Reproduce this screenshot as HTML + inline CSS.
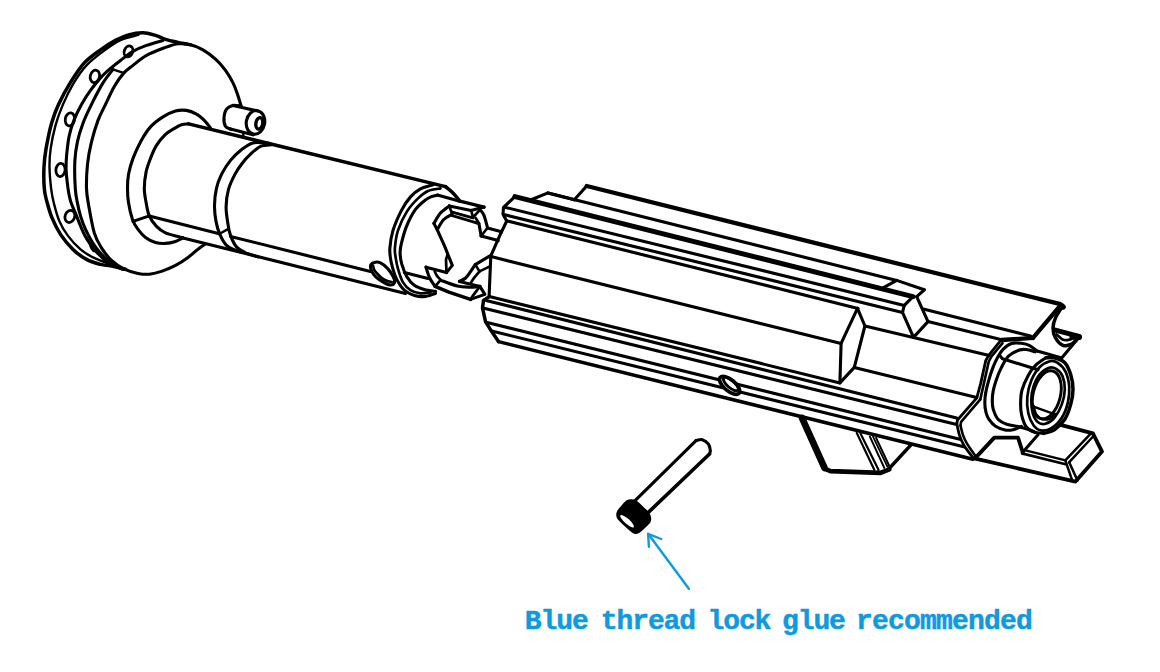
<!DOCTYPE html>
<html><head><meta charset="utf-8"><title>Assembly</title>
<style>
html,body{margin:0;padding:0;background:#fff;}
body{width:1160px;height:672px;overflow:hidden;position:relative;}
svg{position:absolute;left:0;top:0;display:block;}
</style></head><body>
<svg width="1160" height="672" viewBox="0 0 1160 672" fill="none" stroke="#000" stroke-linecap="round" stroke-linejoin="round">
<g transform="translate(0.5 0.4)">
<path d="M190 44.4 C187.9 44 181.7 42.9 177.5 42 C173.3 41.1 168.8 40.2 165 39 C161.2 37.8 158.8 36.1 155 35 C151.2 33.9 147 32.4 142.5 32.3 C138 32.2 132.6 33.2 128 34.5 C123.4 35.8 119.7 37.5 115 40 C110.3 42.5 105.2 45.8 100 49.5 C94.8 53.2 88.8 57.1 83.8 62.5 C78.8 67.9 74.3 75.1 70 82 C65.7 88.9 61.2 97.2 58 104 C54.8 110.8 53.1 115.7 51 123 C48.9 130.3 46.9 140.8 45.6 148 C44.4 155.2 43.8 159.8 43.5 166.5 C43.2 173.2 43.3 182.3 43.8 188 C44.2 193.7 45 195.7 46.2 200.5 C47.5 205.3 49 211.2 51.2 216.8 C53.5 222.3 56.5 228.6 60 234 C63.5 239.4 68.2 244.8 72.5 249 C76.8 253.2 81.4 256.5 86 259 C90.6 261.5 96 262.9 100 264 C104 265.1 105.8 264.7 110 265.5 C114.2 266.3 122.5 268.2 125 268.8" stroke-width="3.5"/>
<path d="M138 34.5 C135 35.4 125.7 37.2 120 39.8 C114.3 42.4 109.7 45.8 104 50 C98.3 54.2 91.2 59.5 86 65 C80.8 70.5 76.9 76.5 73 83 C69.1 89.5 65.5 97 62.5 104 C59.5 111 57 117.7 55 125 C53 132.3 51.2 141.1 50.2 148 C49.2 154.9 48.9 159.8 49 166.5 C49.1 173.2 49.9 181.9 50.6 188 C51.3 194.1 52 197.6 53.4 203 C54.8 208.4 56.4 215.1 58.8 220.5 C61.1 225.9 64 230.8 67.5 235.5 C71 240.2 75.8 245.4 80 249 C84.2 252.6 87.9 254.7 92.5 257 C97.1 259.3 103.2 261.5 107.5 263 C111.8 264.5 116.2 265.5 118 266" stroke-width="2.4"/>
<path d="M162.5 40 C159.8 40.8 151 43.2 146 45 C141 46.8 136.8 48.5 132.5 51 C128.2 53.5 123.8 57.2 120 60 C116.2 62.8 113.3 65.1 110 68 C106.7 70.9 103.3 73.8 100 77.5 C96.7 81.2 93.2 85.6 90 90 C86.8 94.4 83.7 99.2 81 104 C78.3 108.8 75.8 113.8 73.8 119 C71.7 124.2 70 129.2 68.8 135 C67.5 140.8 66.8 148.3 66.2 154 C65.7 159.7 65.4 163.3 65.6 169 C65.8 174.7 66.8 182.8 67.5 188 C68.2 193.2 68.8 196.3 70 200.5 C71.2 204.7 73.3 208.8 75 213 C76.7 217.2 78.2 221.3 80 225.5 C81.8 229.7 83.5 233.8 86 238 C88.5 242.2 91.4 246.5 95 250.5 C98.6 254.5 103.8 259.2 107.5 262 C111.2 264.8 115.8 266.2 117.5 267" stroke-width="3.1"/>
<path d="M112.5 69 C110.8 71.2 106.1 76.7 102.5 82.5 C98.9 88.3 94.3 97.3 91 104 C87.7 110.7 84.8 116.5 82.5 122.8 C80.2 129 78.2 135.3 76.9 141.5 C75.6 147.7 74.8 152.2 74.4 160 C74 167.8 74.3 180.8 74.8 188 C75.2 195.2 76.1 198.4 77 203 C77.9 207.6 78.7 211.2 80 215.5 C81.3 219.8 82.9 224.4 85 229 C87.1 233.6 89.8 238.8 92.5 243 C95.2 247.2 97.7 250.5 101 254 C104.3 257.5 108.9 261.5 112.5 264 C116.1 266.5 120.8 268.2 122.5 269" stroke-width="3.1"/>
<path d="M113.8 69.4 L123 72.5" stroke-width="2.4"/>
<path d="M203.8 244.4 C202.7 245.1 200.2 246.7 197.5 248.8 C194.8 250.8 191.2 254.3 187.5 257 C183.8 259.7 179.4 262.7 175 265 C170.6 267.3 165.4 269.5 161 271 C156.6 272.5 152.7 273.4 148.8 273.8 C144.8 274.1 141.7 273.8 137.5 273 C133.3 272.2 128.2 270.9 123.8 268.8 C119.3 266.6 114.8 263.5 111 260 C107.2 256.5 103.9 252.1 101 247.5 C98.1 242.9 95.9 239.8 93.8 232.5 C91.6 225.2 89.3 211.4 88 204 C86.7 196.6 86.2 194.7 86 188 C85.8 181.3 86.2 171.8 87 164 C87.8 156.2 89.2 148.8 91 141.5 C92.8 134.2 95.2 126.2 97.5 120 C99.8 113.8 102.3 109.7 105 104 C107.7 98.3 110.8 91.2 113.8 86 C116.8 80.8 119.9 76.5 123 73 C126.1 69.5 128.7 68 132.5 65 C136.3 62 140.6 58 146 55 C151.4 52 159.7 49 165 47 C170.3 45 173.8 43.7 178 43.3 C182.2 42.9 185.9 43.4 190 44.4 C194.1 45.4 198.3 47 202.5 49.4 C206.7 51.8 211.2 55.3 215 58.8 C218.8 62.2 222.1 66 225 70 C227.9 74 230.5 78.5 232.5 82.5 C234.5 86.5 235.7 89.9 237 93.8 C238.3 97.6 240 103.6 240.6 105.6" stroke-width="3.1"/>
<ellipse cx="128" cy="51" rx="4.2" ry="5.6" transform="rotate(20 128 51)" stroke-width="2.8"/>
<ellipse cx="94.4" cy="76" rx="4.6" ry="6.3" transform="rotate(15 94.4 76)" stroke-width="2.8"/>
<ellipse cx="69.4" cy="119" rx="4.6" ry="6.6" transform="rotate(10 69.4 119)" stroke-width="2.8"/>
<ellipse cx="60" cy="169.6" rx="4.6" ry="6.6" transform="rotate(5 60 169.6)" stroke-width="2.8"/>
<ellipse cx="69.4" cy="216" rx="4.8" ry="6.2" transform="rotate(20 69.4 216)" stroke-width="2.8"/>
<path d="M90 243 C90.4 242.9 91.2 243.5 92 244.5 C92.8 245.5 94.2 247.9 94.5 249 C94.8 250.1 94.1 251.1 93.5 251 C92.9 250.9 91.7 249.5 91 248.5 C90.3 247.5 89.7 245.9 89.5 245 C89.3 244.1 89.6 243.1 90 243Z" stroke-width="1.7" fill="#000"/>
<path d="M182.5 237.5 C181.2 238.1 177.9 240.1 175 241 C172.1 241.9 168.3 242.8 165 243 C161.7 243.2 158.3 243 155 242 C151.7 241 147.9 239.2 145 237 C142.1 234.8 139.7 232 137.5 229 C135.3 226 133.6 223.5 132 219 C130.4 214.5 128.8 207.2 128 202 C127.2 196.8 127 192.7 127 188 C127 183.3 127.1 179 128 174 C128.9 169 130.5 163.4 132.5 158 C134.5 152.6 137.1 146.8 140 141.5 C142.9 136.2 146.2 130.7 150 126.5 C153.8 122.3 158.3 119.2 162.5 116.5 C166.7 113.8 171.1 111.7 175 110.6 C178.9 109.5 182.5 109.5 186 110 C189.5 110.5 193 112.1 196 113.8 C199 115.4 201.4 117.7 203.8 120 C206.1 122.3 209 126.2 210 127.5" stroke-width="3.1"/>
<path d="M182.5 237.5 C181.7 237.2 180.4 236.8 177.5 236 C174.6 235.2 168.6 234.2 165 232.5 C161.4 230.8 158.7 228.8 156 226 C153.3 223.2 150.5 219.5 148.8 215.5 C147 211.5 146.4 206.6 145.6 202 C144.8 197.4 143.8 193.1 143.8 188 C143.8 182.9 144.6 176.5 145.6 171.5 C146.6 166.5 148.3 162.4 150 158 C151.7 153.6 153.5 149 156 145 C158.5 141 162.2 136.7 165 134 C167.8 131.3 169.8 130.3 172.5 128.8 C175.2 127.2 178.4 125.3 181 124.4 C183.6 123.5 186.8 123.7 188 123.5" stroke-width="3.1"/>
<path d="M188 123.5 L445 186.2" stroke-width="3.5"/>
<path d="M182.5 237.5 L405 293" stroke-width="3.1"/>
<path d="M148.8 215.5 L218.8 233.4" stroke-width="3.1"/>
<path d="M230 236 L370 271" stroke-width="3.1"/>
<path d="M132.5 221 L148.8 215.5" stroke-width="3.1"/>
<path d="M220 232.8 L227 229" stroke-width="2.4"/>
<path d="M268.8 143 C266 142.9 257.3 141.3 252.5 142.5 C247.7 143.7 243.8 147.1 240 150 C236.2 152.9 233.2 156 230 160 C226.8 164 223.3 169.4 221 174 C218.7 178.6 217.2 182.6 216 187.8 C214.8 192.9 214.1 199.4 214 205 C213.9 210.6 214.7 216.7 215.6 221.5 C216.5 226.3 217.7 230.1 219.4 234 C221.1 237.9 223.4 242.3 226 245 C228.6 247.7 232.2 248.8 235 250 C237.8 251.2 241.2 251.7 242.5 252" stroke-width="3.1"/>
<path d="M271 144.4 C269.2 144.7 263.5 144.4 260 146 C256.5 147.6 253.2 150.8 250 153.8 C246.8 156.7 243.6 160.4 241 163.8 C238.4 167.1 236.6 169.8 234.4 174 C232.2 178.2 229.5 183.6 228 189 C226.5 194.4 225.7 200.7 225.6 206.5 C225.5 212.3 226.8 219.2 227.5 224 C228.2 228.8 228.6 231.2 230 235 C231.4 238.8 233.3 243.5 236 246.5 C238.7 249.5 242.4 251.1 246 252.8 C249.6 254.4 255.6 255.9 257.5 256.5" stroke-width="3.1"/>
<path d="M240.6 105.6 C239.2 105.5 234.9 104.5 232.5 105 C230.1 105.5 227.5 106.7 226 108.8 C224.5 110.8 223.7 114.6 223.5 117.5 C223.3 120.4 223.8 124.1 225 126 C226.2 127.9 230 128.5 231 129" stroke-width="3.1"/>
<path d="M232.5 105 L257.5 110.6" stroke-width="3.1"/>
<path d="M229 128.3 L252.5 134.4" stroke-width="3.1"/>
<ellipse cx="255" cy="122" rx="9.2" ry="11.9" transform="rotate(10 255 122)" stroke-width="3.1"/>
<ellipse cx="258.8" cy="123" rx="3.4" ry="5.8" transform="rotate(10 258.8 123)" stroke-width="3.4"/>
<path d="M242.5 132.5 L243 136" stroke-width="2.4"/>
</g>
<g transform="translate(0.5 0.4)">
<path d="M432.5 184.4 C430.4 185.1 423.8 186.5 420 188.5 C416.2 190.5 413.2 192.9 410 196.5 C406.8 200.1 403.9 204.4 401 210 C398.1 215.6 394.4 223.8 392.5 230 C390.6 236.2 389.8 242.8 389.4 247.5 C389 252.2 389.6 254.8 390 258 C390.4 261.2 391 263.6 392 267 C393 270.4 394 274.7 396 278.5 C398 282.3 400.6 286.9 403.8 289.8 C406.9 292.6 411.5 294.4 415 295.4 C418.5 296.4 421.7 296.4 425 296 C428.3 295.6 433.3 293.5 435 293" stroke-width="3.1"/>
<path d="M440 188 C437.9 188.4 431.2 188.9 427.5 190.6 C423.8 192.3 421 194.6 417.5 198 C414 201.4 409.8 205.7 406.5 211 C403.2 216.3 399.5 223.9 397.5 230 C395.5 236.1 394.8 242.8 394.4 247.5 C394 252.2 394.8 254.5 395.3 258 C395.8 261.5 396.3 264.5 397.5 268.5 C398.7 272.5 400.4 278.5 402.5 282 C404.6 285.5 407.1 287.9 410 289.8 C412.9 291.6 416.7 292.6 420 293 C423.3 293.4 428.3 292.2 430 292" stroke-width="2.7"/>
<path d="M437 194.7 L458.4 200.5" stroke-width="3.1"/>
<path d="M437 194.7 C436 194.9 433 195.4 431 196.2 C429 197 427.7 197.4 425 199.5 C422.3 201.6 418.2 204.6 415 209 C411.8 213.4 408.3 220.4 406 226 C403.7 231.6 402.1 238.2 401 242.5 C399.9 246.8 399.6 248.5 399.6 252 C399.6 255.5 400.1 259.5 401.2 263.5 C402.4 267.5 404.2 272.5 406.2 276 C408.3 279.5 410.8 282.6 413.8 284.8 C416.7 286.9 420.2 288 423.8 289 C427.3 290 433.1 290.7 435 291" stroke-width="3.1"/>
<path d="M445 186.2 C446.2 187.3 450.2 190.2 452.5 192.5 C454.8 194.8 457.7 198.8 458.8 200" stroke-width="3.5"/>
<path d="M403.8 272.2 L427.5 278" stroke-width="3.1"/>
<path d="M370 265.5 C370.1 263.4 372.3 262.5 374 262 C375.7 261.5 377.8 261.5 380 262.5 C382.2 263.5 384.9 265.8 387 268 C389.1 270.2 391.3 273.7 392.5 276 C393.7 278.3 394.5 280.6 394 282 C393.5 283.4 391.6 284.7 389.5 284.5 C387.4 284.3 384.2 282.7 381.5 281 C378.8 279.3 375.4 277.1 373.5 274.5 C371.6 271.9 369.9 267.6 370 265.5Z" stroke-width="3.1"/>
<path d="M372.5 265.4 C372.8 266.2 373.2 268.6 374 270 C374.8 271.4 375.8 272.2 377 273.5 C378.2 274.8 379.5 276.4 381 277.5 C382.5 278.6 384.5 279.7 386.2 280.4 C388 281.1 390.4 281.4 391.2 281.6" stroke-width="2.7"/>
<path d="M458.4 200.5 L483.5 206.7" stroke-width="3.5"/>
<path d="M448.8 205.5 L470.6 210 L483.5 206.7" stroke-width="3.1"/>
<path d="M448.8 205.5 C447.3 206.7 442.6 209.7 440 212.6 C437.4 215.5 434.5 221.3 433.4 223" stroke-width="3.1"/>
<path d="M433.4 223 L436.7 229.3 L444.2 246 L451.8 265 L446 272.2" stroke-width="3.1"/>
<path d="M436.7 229.3 C437.8 227.6 440.6 221.8 443 219.3 C445.4 216.8 449.7 215 451 214.2" stroke-width="3.1"/>
<path d="M448.8 205.5 L451.8 214.2" stroke-width="2.7"/>
<path d="M451.8 211.7 L471.4 217.2" stroke-width="2.7"/>
<path d="M451 215 L475.2 222.2" stroke-width="2.7"/>
<path d="M470.6 210 L472.7 217.6" stroke-width="2.7"/>
<path d="M472.7 216.8 L479.3 209.6" stroke-width="2.7"/>
<path d="M480.2 210 C480.8 210.8 482.4 212.2 483.5 215 C484.6 217.8 486.3 224.8 486.9 226.8" stroke-width="3.1"/>
<path d="M475.2 222.2 L478.5 223.4 L480.6 235.6" stroke-width="3.1"/>
<path d="M475.2 217.6 L478.5 223" stroke-width="2.7"/>
<path d="M480.6 235.6 L486.9 227.6" stroke-width="2.7"/>
<path d="M486.9 227.6 L501 231.4" stroke-width="3.1"/>
<path d="M480.6 235.6 L497.7 240.2" stroke-width="3.1"/>
<path d="M446 272.2 L425.5 266.8" stroke-width="3.1"/>
<path d="M446 272.2 L445.5 259.2 L446.8 255" stroke-width="2.7"/>
<path d="M425.5 266.8 C426.1 268.6 427.7 274.4 429.2 277.6 C430.7 280.8 433.7 284.6 434.6 286" stroke-width="3.1"/>
<path d="M434.2 271 C434.6 271.8 435.5 274.1 436.5 275.5 C437.5 276.9 439.4 278.7 440 279.3" stroke-width="2.7"/>
<path d="M434.6 286 L440 279.7" stroke-width="2.7"/>
<path d="M440 279.7 C442.8 280.7 451.9 284.4 456.8 285.6 C461.7 286.8 465.5 286.7 469.3 286.8 C473.1 286.9 477.7 286.1 479.4 286" stroke-width="3.1"/>
<path d="M434.6 286 L448.4 291.8 L470 299" stroke-width="3.5"/>
<path d="M479.4 286 L471.9 296 L470 299" stroke-width="2.7"/>
<path d="M479.4 286 L484.4 294 L475 297.2 L470 299" stroke-width="3.1"/>
<path d="M458.9 281 L479.4 286" stroke-width="3.1"/>
<path d="M458.9 281 C459.9 280.4 463.3 279.3 465.2 277.6 C467.1 275.9 468.6 273.2 470.2 271 C471.8 268.8 474 265.3 474.8 264.2" stroke-width="3.1"/>
<path d="M474.8 264.2 L489.4 255.5" stroke-width="3.1"/>
<path d="M474.8 264.2 L479 271" stroke-width="2.7"/>
<path d="M479 271 L489.4 266" stroke-width="2.7"/>
<path d="M470.2 282.6 C470.8 281.7 472.5 278.9 474 277 C475.5 275.1 478.2 272 479 271" stroke-width="2.7"/>
</g>
<g transform="translate(0.5 0.4)">
<path d="M514.4 196.2 L503 207 L502.5 213.8 L506.2 220.6 L498.8 236.2 L490.3 255.5 L488.6 296" stroke-width="3.1"/>
<path d="M488.8 296.2 L483 300 L482 307.5 L485 321.2 L491.2 331.2 L498 341.2" stroke-width="3.5"/>
<path d="M514.4 196.2 L912.5 296.2" stroke-width="5"/>
<path d="M505 207 L903.8 305" stroke-width="3.1"/>
<path d="M504.4 214.4 L902 312" stroke-width="3.1"/>
<path d="M506.9 220.6 L857.5 308" stroke-width="3.1"/>
<path d="M530.6 199.4 L547.5 192.5 L896.2 280 L923.8 289.4" stroke-width="3.1"/>
<path d="M547.5 192.5 L573.8 199.4" stroke-width="3.1"/>
<path d="M573.8 199.4 L586.2 185.6" stroke-width="3.1"/>
<path d="M586.2 185.6 L1060 303.8" stroke-width="4.3"/>
<path d="M896.2 280 L882.5 287.5" stroke-width="3.1"/>
<path d="M923.8 289.4 L916.2 296.2" stroke-width="3.1"/>
<path d="M912.5 296.2 L903.8 305 L902 312 L913 337" stroke-width="3.1"/>
<path d="M916.2 296.2 L927.5 321.2 L913 337" stroke-width="3.1"/>
<path d="M490.6 256.2 L840.6 343" stroke-width="3.1"/>
<path d="M488.8 296.2 L839.4 382.5" stroke-width="3.1"/>
<path d="M857 308 L840.6 343 L839.4 382.5 L853.8 367 L864.4 325.6 L857 308" stroke-width="3.1"/>
<path d="M485.6 300 L956.2 417.5" stroke-width="3.1"/>
<path d="M482.5 307.5 L955 423.8" stroke-width="3.1"/>
<path d="M485.6 321.9 L959.3 438.8" stroke-width="3.1"/>
<path d="M491.2 330.6 L963.2 446.4" stroke-width="3.1"/>
<path d="M498 341.2 L972.5 458.8" stroke-width="3.5"/>
<path d="M864.4 325.6 L988.8 355" stroke-width="3.1"/>
<path d="M923.8 308.8 L1030 335.6" stroke-width="3.1"/>
<path d="M927.5 321.2 L1001.2 339.4" stroke-width="3.1"/>
<path d="M853.8 367 L976.2 397" stroke-width="3.1"/>
<path d="M999.5 341 L988.2 355 L985.3 360 L980.2 383 L976.3 397.5" stroke-width="2.8"/>
<path d="M976.3 397.5 L957 419.6 L956.3 423.2" stroke-width="2.8"/>
<path d="M956.3 423.2 C956.8 425.2 957.8 431.4 959 435 C960.2 438.6 961.1 441.1 963.5 445 C965.9 448.9 971.8 456.2 973.5 458.5" stroke-width="2.8"/>
<path d="M1002 342.8 L991 356 L988.3 361 L983.4 383 L979.8 399" stroke-width="2.6"/>
<path d="M979.8 399 L960.6 421.4 L960 425" stroke-width="2.6"/>
<path d="M960 425 C960.4 426.7 961.5 431.9 962.6 435 C963.7 438.1 964.6 440.1 966.8 443.8 C969 447.5 974.5 454.8 976 457" stroke-width="2.6"/>
<path d="M1060 305 L1032.5 337.5" stroke-width="4.3"/>
<path d="M1001.2 339.6 L1032.5 337.5" stroke-width="4.3"/>
<path d="M1062 306 C1060.8 307.9 1056.6 313.9 1055 317.5 C1053.4 321.1 1052.5 324.2 1052.5 327.5 C1052.5 330.8 1053.3 334.6 1055 337.5 C1056.7 340.4 1059.8 344 1062.5 345 C1065.2 346 1068.5 345 1071 343.8 C1073.5 342.5 1076.4 338.5 1077.5 337.5" stroke-width="3.5"/>
<path d="M1054 329.5 L1077.5 335.8" stroke-width="4.9"/>
<path d="M1072 336 L1078.5 336.6" stroke-width="6.2"/>
<path d="M1061.5 305.5 L1062.5 306.5" stroke-width="5.6"/>
<path d="M1056 334 C1057 334.8 1060 338.1 1062 339 C1064 339.9 1066 339.8 1068 339.5 C1070 339.2 1073 337.4 1074 337" stroke-width="2.7"/>
<path d="M1077.5 338 L1061.2 357.5" stroke-width="3.1"/>
</g>
<g transform="translate(0.5 0.4)">
<ellipse cx="729.1" cy="384.9" rx="12.3" ry="5.6" transform="rotate(40 729.1 384.9)" stroke-width="3.7" fill="#fff"/>
<ellipse cx="730.4" cy="383.5" rx="9.4" ry="3.8" transform="rotate(41 730.4 383.5)" stroke-width="2.9"/>
<path d="M1036.5 350.6 C1035.3 349.7 1031.8 346.5 1029.2 345.2 C1026.6 343.9 1023.8 343.3 1020.8 342.9 C1017.8 342.5 1014 342.1 1011 343 C1008 343.9 1005.3 346.2 1003 348.5 C1000.7 350.8 999.1 353.3 997.3 356.5 C995.5 359.7 993.8 363.6 992.3 367.5 C990.8 371.4 989.4 375.9 988.2 380 C987 384.1 985.9 388.3 985.3 392 C984.6 395.7 984.3 398.7 984.3 402 C984.3 405.3 984.8 409.2 985.5 412 C986.2 414.8 986.9 416.7 988.5 419 C990.1 421.3 992.2 424 995 425.8 C997.8 427.6 1002.2 429.3 1005.5 429.8 C1008.8 430.3 1011.9 429.4 1014.5 428.8 C1017.1 428.2 1019.9 426.5 1021 426" stroke-width="3.1"/>
<path d="M1034.4 351.5 C1033.2 351.1 1029.6 349.6 1027 349.3 C1024.4 349 1022.2 348.5 1019 349.6 C1015.8 350.7 1011 352.8 1008 355.8 C1005 358.8 1002.8 363.5 1000.7 367.5 C998.6 371.5 996.9 376.2 995.6 380 C994.3 383.8 993.4 386.8 992.8 390 C992.2 393.2 991.8 395.8 991.8 399 C991.8 402.2 991.8 405.7 992.8 409 C993.8 412.3 995.3 416.3 997.5 418.8 C999.7 421.2 1002.9 422.5 1006.2 423.8 C1009.6 425 1014 425.4 1017.5 426.2 C1021 427.1 1024.6 427.8 1027.5 428.8 C1030.4 429.7 1033.8 431.5 1035 432" stroke-width="3.1"/>
<path d="M999 354.8 L1002 358.4 L1037.5 369.4" stroke-width="3.1"/>
<path d="M1035 350 L1060.4 357.4" stroke-width="3.1"/>
<g transform="translate(-1.5 0)">
<path d="M1046.9 357.4 C1045.2 358.6 1040 361.6 1037 364.5 C1034 367.4 1031.5 370.8 1029.2 375 C1026.9 379.2 1024.2 385.2 1022.9 390 C1021.6 394.8 1021.6 399.9 1021.6 404 C1021.6 408.1 1021.7 410.7 1022.6 414.4 C1023.5 418.1 1025.1 423.4 1027.1 426.3 C1029.1 429.2 1031.5 430.4 1034.5 431.5 C1037.5 432.6 1043.2 432.8 1044.9 433" stroke-width="3.1"/>
<path d="M1046.9 357.4 C1048.3 357.4 1052.2 356.5 1055.4 357.3 C1058.6 358.1 1063.1 359.5 1065.8 362.3 C1068.5 365.1 1070.3 369.7 1071.7 374.2 C1073.1 378.7 1074 384.1 1074 389.1 C1074 394.1 1073.1 399 1071.7 404 C1070.3 409 1068.5 414.7 1065.8 418.9 C1063.1 423.1 1058.9 426.9 1055.4 429.3 C1051.9 431.7 1046.7 432.4 1044.9 433" stroke-width="3.5"/>
<path d="M1050.9 360.8 C1047.9 361.6 1043.6 363.6 1040.5 366.8 C1037.4 370 1034.3 375.2 1032.3 380.2 C1030.3 385.1 1028.8 391.1 1028.3 396.5 C1027.8 401.9 1028.3 408.2 1029.3 412.9 C1030.3 417.6 1032.4 421.9 1034.5 424.8 C1036.6 427.7 1039 429.5 1042 430 C1045 430.5 1048.9 429.9 1052.4 427.8 C1055.9 425.7 1060.1 421.6 1062.8 417.4 C1065.5 413.2 1067.5 407.7 1068.8 402.5 C1070 397.3 1070.6 391.3 1070.2 386.1 C1069.8 380.9 1068.5 375.2 1066.5 371.2 C1064.5 367.3 1060.9 364 1058.3 362.3 C1055.7 360.6 1053.9 360.1 1050.9 360.8Z" stroke-width="2.7"/>
<path d="M1049.4 367.5 C1046.7 368.5 1043 371.1 1040.5 374.2 C1038 377.3 1035.9 381.9 1034.5 386.1 C1033.1 390.3 1032.4 395 1032.3 399.5 C1032.2 404 1032.7 409.2 1033.8 412.9 C1034.9 416.6 1036.9 420.1 1039 421.8 C1041.1 423.5 1043.7 424 1046.4 423.3 C1049.1 422.6 1052.7 420.6 1055.4 417.4 C1058.1 414.2 1061.1 408.7 1062.8 404 C1064.5 399.3 1065.7 393.8 1065.8 389.1 C1065.9 384.4 1065 379.2 1063.5 375.7 C1062 372.2 1059.1 369.7 1056.8 368.3 C1054.5 366.9 1052.1 366.5 1049.4 367.5Z" stroke-width="2.7"/>
<ellipse cx="1047.8" cy="394.4" rx="13.6" ry="24.5" transform="rotate(14 1047.8 394.4)" stroke-width="2.9"/>
<path d="M1034.5 405.5 C1035 407 1036 412.2 1037.5 414.4 C1039 416.6 1041.3 418.3 1043.5 418.9 C1045.7 419.5 1048.8 419 1050.9 418.1 C1053 417.2 1055.2 414.4 1056.1 413.7" stroke-width="2.5"/>
<path d="M1034.5 406.2 L1056.1 414" stroke-width="2.5"/>
</g>
<path d="M973.8 458 L1075 481.2 L1101.5 451.2 L1092.4 433 L1060 424.4" stroke-width="3.8"/>
<path d="M1090 433.5 L1065 459.8" stroke-width="2.5"/>
<path d="M1093 435.6 L1068.5 462" stroke-width="2.5"/>
<path d="M1065 460.5 L1071.5 479.5" stroke-width="2.5"/>
<path d="M1068.8 462 L1077 480" stroke-width="2.5"/>
<path d="M1025 450 L1065 460" stroke-width="2.5"/>
<path d="M1021.5 453 L1065 463.8" stroke-width="2.7"/>
<path d="M1037.5 434.4 L1023.8 450" stroke-width="3.1"/>
<path d="M975 457.5 L993.8 437.2 L1017.5 437.2 L1022.5 452.8" stroke-width="3.8"/>
<path d="M801.5 417.5 L824 467.5" stroke-width="6.7"/>
<path d="M824.5 468.5 L830 470.8 L880 472.5 L888.8 469" stroke-width="4.7"/>
<path d="M888.8 468 L910 445" stroke-width="3.6"/>
<path d="M856.2 432.5 L873.8 469.4" stroke-width="2.2"/>
<path d="M860 433 L878 469.4" stroke-width="2.2"/>
<path d="M869.4 436.2 L883.8 467.5" stroke-width="2"/>
<path d="M872.5 436.2 L886.9 466.2" stroke-width="1.8"/>
<path d="M875.6 437.5 L888.8 465.6" stroke-width="2"/>
</g>
<g transform="translate(0.5 0.4)">
<path d="M634.8 500 L695.5 440.2" stroke-width="3.1"/>
<path d="M647.3 512.5 L709 453.6" stroke-width="3.6"/>
<path d="M695.5 440.2 C696.5 440.1 699.7 438.7 701.8 439.3 C703.9 439.9 706.7 442 708 443.8 C709.3 445.5 709.6 448.4 709.8 450 C710 451.6 709.1 453 709 453.6" stroke-width="3.1"/>
<path d="M626.8 500.9 C628.5 499.9 632.7 499.6 634.8 500.9 C636.9 502.1 646.8 511.3 648.2 513.4 C649.6 515.4 650.1 519.5 649 521.4 C647.9 523.3 639.2 531 637.5 532 C635.8 533 634 532.7 632 531.2 C630 529.8 619.3 520 617.9 517.9 C616.5 515.8 617 512.4 617.9 510.7 C618.8 509 625.1 501.9 626.8 500.9Z" stroke-width="2.2" fill="#000"/>
<ellipse cx="626.6" cy="520.8" rx="9" ry="2.5" transform="rotate(42 626.6 520.8)" fill="#fff" stroke="none"/>
<g stroke="#0f9ae0" stroke-width="2.4"><path d="M688.4 588.4 L647.8 533.6"/><path d="M648.4 546.4 L647.6 533.4 L660.7 538.6"/></g>
</g>
<text y="629" font-family="'Liberation Mono','DejaVu Sans Mono',monospace" font-weight="bold" font-size="28" letter-spacing="-1.1" fill="#0f9ae0" stroke="#0f9ae0" stroke-width="0.5"><tspan x="524.8">Blue</tspan> <tspan x="600.8">thread</tspan> <tspan x="707.5">lock</tspan> <tspan x="782">glue</tspan> <tspan x="856" letter-spacing="-0.8">recommended</tspan></text>
</svg>

</body></html>
